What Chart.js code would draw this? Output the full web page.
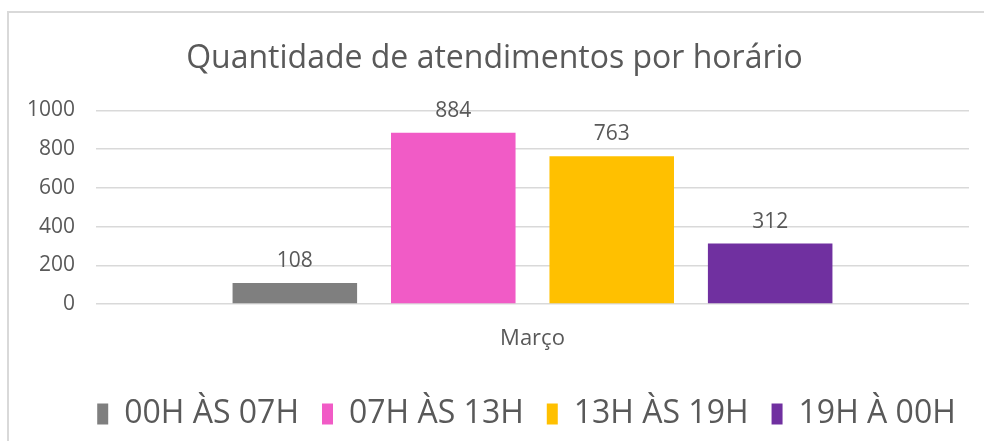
<!DOCTYPE html>
<html>
<head>
<meta charset="utf-8">
<title>Quantidade de atendimentos por horário</title>
<script src="https://cdn.jsdelivr.net/npm/chart.js"></script>
<style>
    html, body {
        margin: 0;
        padding: 0;
        background: #fff;
        width: 984px;
        height: 441px;
        overflow: hidden;
    }
    .frame {
        position: absolute;
        left: 7px;
        top: 11px;
        width: 1000px;
        height: 460px;
        border-top: 2px solid #d9d9d9;
        border-left: 2px solid #d9d9d9;
    }
    .wrap {
        position: absolute;
        left: 0;
        top: 0;
        width: 984px;
        height: 441px;
    }
</style>
</head>
<body>
<div class="frame"></div>
<div class="wrap"><canvas id="chart" width="984" height="441"></canvas></div>

<script>
    const categories = ["Março"];
    const seriesNames = ["00H ÀS 07H", "07H ÀS 13H", "13H ÀS 19H", "19H À 00H"];
    const seriesValues = [108, 884, 763, 312];
    const seriesColors = ["#7f7f7f", "#f15bc6", "#ffc000", "#7030a0"];
    const yTicks = [0, 200, 400, 600, 800, 1000];

    const FONT = "'Open Sans', 'DejaVu Sans', sans-serif";
    const TEXT = "#595959";

    // value labels above each bar
    const barLabels = {
        id: "barLabels",
        afterDatasetsDraw(chart) {
            const ctx = chart.ctx;
            ctx.save();
            ctx.font = "21px " + FONT;
            ctx.fillStyle = TEXT;
            ctx.textAlign = "center";
            ctx.textBaseline = "alphabetic";
            chart.data.datasets.forEach((ds, i) => {
                const meta = chart.getDatasetMeta(i);
                meta.data.forEach((bar, j) => {
                    ctx.fillText(String(ds.data[j]), bar.x, bar.y - 16);
                });
            });
            ctx.restore();
        }
    };

    // legend in the reference sits a bit right of the canvas centre
    const legendShift = {
        id: "legendShift",
        afterLayout(chart) {
            chart.legend.left += 32;
            chart.legend.right += 32;
        }
    };

    const datasets = seriesNames.map((name, i) => ({
        label: name,
        data: [seriesValues[i]],
        backgroundColor: seriesColors[i],
        borderWidth: 0,
        categoryPercentage: 0.726,
        barPercentage: 0.786
    }));

    new Chart(document.getElementById("chart"), {
        type: "bar",
        data: { labels: categories, datasets: datasets },
        plugins: [barLabels, legendShift],
        options: {
            responsive: false,
            animation: false,
            devicePixelRatio: 1,
            layout: { padding: { left: 20, right: 15, top: 22, bottom: 1 } },
            plugins: {
                title: {
                    display: true,
                    text: "Quantidade de atendimentos por horário",
                    color: TEXT,
                    font: { family: FONT, size: 32, weight: "normal" },
                    padding: { top: 18, bottom: 32 }
                },
                legend: {
                    position: "bottom",
                    labels: {
                        color: TEXT,
                        font: { family: FONT, size: 32 },
                        boxWidth: 11,
                        boxHeight: 21,
                        padding: 23
                    }
                },
                tooltip: { enabled: false }
            },
            scales: {
                x: {
                    grid: { display: false },
                    border: { display: false },
                    ticks: {
                        color: TEXT,
                        font: { family: FONT, size: 22 },
                        padding: 14
                    },
                    afterFit(scale) { scale.height = 71; }
                },
                y: {
                    min: 0,
                    max: 1000,
                    afterBuildTicks(scale) { scale.ticks = yTicks.map(v => ({ value: v })); },
                    grid: { color: "#d9d9d9", lineWidth: 1.5, drawTicks: false },
                    border: { display: false },
                    ticks: {
                        color: TEXT,
                        font: { family: FONT, size: 21 },
                        padding: 21,
                        callback: (v) => String(v)
                    },
                    afterFit(scale) { scale.width = 76; }
                }
            }
        }
    });
</script>
</body>
</html>
